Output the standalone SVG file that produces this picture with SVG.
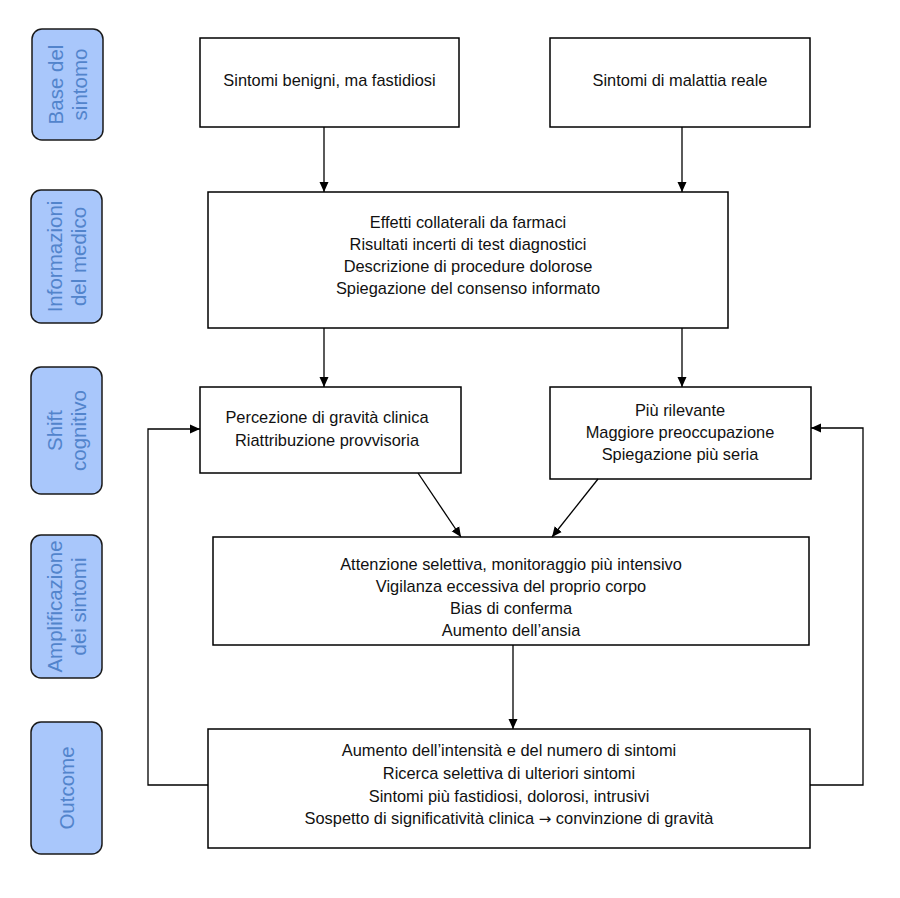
<svg xmlns="http://www.w3.org/2000/svg" width="900" height="898" viewBox="0 0 900 898">
<defs>
<style>
.box{fill:#fff;stroke:#000;stroke-width:1.5}
.side{fill:#a9c7fb;stroke:#1a1a1a;stroke-width:1.5}
.t{font-family:"Liberation Sans",Arial,sans-serif;font-size:16.4px;fill:#111;text-anchor:middle}
.st{font-family:"Liberation Sans",Arial,sans-serif;font-size:20.5px;fill:#5284cc;text-anchor:middle}
.ln{fill:none;stroke:#000;stroke-width:1.3}
.ar{font-family:"DejaVu Sans",sans-serif;font-size:15px}
</style>
<marker id="ah" viewBox="0 0 10 10" refX="10" refY="5" markerWidth="10" markerHeight="10" markerUnits="userSpaceOnUse" orient="auto">
<path d="M0,0.5 L10,5 L0,9.5 Z" fill="#000"/>
</marker>
</defs>
<rect width="900" height="898" fill="#fff"/>

<g id="stage1">
<rect class="side" x="32" y="29" width="71" height="111" rx="10"/>
<g transform="translate(67.5,84.5) rotate(-90)"><text class="st"><tspan x="0" y="-5">Base del</tspan><tspan x="0" y="19">sintomo</tspan></text></g>
</g>
<g id="stage2">
<rect class="side" x="31" y="190" width="71" height="133" rx="10"/>
<g transform="translate(66.5,256.5) rotate(-90)"><text class="st"><tspan x="0" y="-5">Informazioni</tspan><tspan x="0" y="19">del medico</tspan></text></g>
</g>
<g id="stage3">
<rect class="side" x="31" y="367" width="71" height="127" rx="10"/>
<g transform="translate(66.5,430.5) rotate(-90)"><text class="st"><tspan x="0" y="-5">Shift</tspan><tspan x="0" y="19">cognitivo</tspan></text></g>
</g>
<g id="stage4">
<rect class="side" x="31" y="535" width="71" height="143" rx="10"/>
<g transform="translate(66.5,606.5) rotate(-90)"><text class="st"><tspan x="0" y="-5">Amplificazione</tspan><tspan x="0" y="19">dei sintomi</tspan></text></g>
</g>
<g id="stage5">
<rect class="side" x="31" y="722" width="71" height="132" rx="10"/>
<g transform="translate(66.5,788) rotate(-90)"><text class="st" x="0" y="7">Outcome</text></g>
</g>

<g id="benigni">
<rect class="box" x="200" y="38" width="259" height="89"/>
<text class="t" x="329.5" y="86">Sintomi benigni, ma fastidiosi</text>
</g>
<g id="reale">
<rect class="box" x="550" y="38" width="260" height="89"/>
<text class="t" x="680" y="86">Sintomi di malattia reale</text>
</g>
<g id="informazioni">
<rect class="box" x="208" y="192" width="520" height="136"/>
<text class="t"><tspan x="468" y="228">Effetti collaterali da farmaci</tspan><tspan x="468" y="250">Risultati incerti di test diagnostici</tspan><tspan x="468" y="272">Descrizione di procedure dolorose</tspan><tspan x="468" y="294">Spiegazione del consenso informato</tspan></text>
</g>
<g id="percezione">
<rect class="box" x="200" y="387" width="261" height="86"/>
<text class="t"><tspan x="327" y="423">Percezione di gravità clinica</tspan><tspan x="327" y="446">Riattribuzione provvisoria</tspan></text>
</g>
<g id="rilevante">
<rect class="box" x="550" y="387" width="261" height="92"/>
<text class="t"><tspan x="680" y="416">Più rilevante</tspan><tspan x="680" y="438">Maggiore preoccupazione</tspan><tspan x="680" y="460">Spiegazione più seria</tspan></text>
</g>
<g id="amplificazione">
<rect class="box" x="213" y="537" width="596" height="108"/>
<text class="t"><tspan x="511" y="570">Attenzione selettiva, monitoraggio più intensivo</tspan><tspan x="511" y="592">Vigilanza eccessiva del proprio corpo</tspan><tspan x="511" y="614">Bias di conferma</tspan><tspan x="511" y="636">Aumento dell’ansia</tspan></text>
</g>
<g id="outcome">
<rect class="box" x="208" y="729" width="602" height="119"/>
<text class="t"><tspan x="509" y="756">Aumento dell’intensità e del numero di sintomi</tspan><tspan x="509" y="779">Ricerca selettiva di ulteriori sintomi</tspan><tspan x="509" y="802">Sintomi più fastidiosi, dolorosi, intrusivi</tspan><tspan x="509" y="824">Sospetto di significatività clinica <tspan class="ar">→</tspan> convinzione di gravità</tspan></text>
</g>

<g id="connectors">
<line class="ln" x1="324" y1="127" x2="324" y2="192" marker-end="url(#ah)"/>
<line class="ln" x1="682" y1="127" x2="682" y2="192" marker-end="url(#ah)"/>
<line class="ln" x1="324" y1="328" x2="324" y2="387" marker-end="url(#ah)"/>
<line class="ln" x1="682" y1="328" x2="682" y2="387" marker-end="url(#ah)"/>
<line class="ln" x1="418" y1="473" x2="461" y2="537" marker-end="url(#ah)"/>
<line class="ln" x1="598" y1="479" x2="552" y2="537" marker-end="url(#ah)"/>
<line class="ln" x1="513" y1="645" x2="513" y2="729" marker-end="url(#ah)"/>
<polyline class="ln" points="208,785 148,785 148,429 200,429" marker-end="url(#ah)"/>
<polyline class="ln" points="810,785 863,785 863,428 811,428" marker-end="url(#ah)"/>
</g>
</svg>
